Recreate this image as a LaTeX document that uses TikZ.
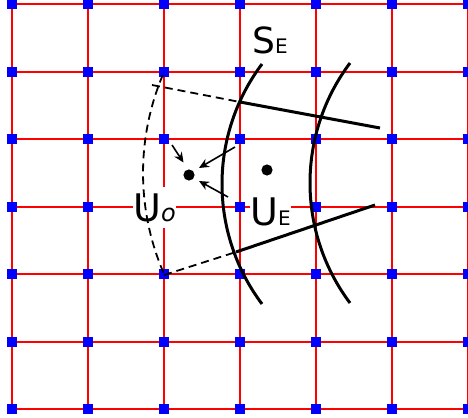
\documentclass[tikz,border=0pt]{standalone}
\usepackage{fontspec}
\setmainfont{DejaVu Sans}
\usetikzlibrary{arrows.meta}
\begin{document}
\begin{tikzpicture}[x=0.5pt,y=-0.5pt,
  gridline/.style={red, line width=1pt},
  gridpt/.style={rectangle, fill=blue, draw=none, minimum size=5pt, inner sep=0pt},
  front/.style={black, line width=1.5pt},
  guide/.style={black, line width=0.9pt, dash pattern=on 4pt off 2.5pt},
  ptr/.style={black, line width=0.8pt, -{Stealth[length=5pt,width=4.5pt]}},
  dot/.style={circle, fill=black, inner sep=0pt, minimum size=5.6pt},
  lbl/.style={inner xsep=0pt, inner ysep=3pt, anchor=base west, fill=white, font=\fontsize{19}{22}\selectfont}
]
\useasboundingbox (0,0) rectangle (468,418);
% grid coordinates
\foreach \i in {0,...,6}{
  \foreach \j in {0,...,6}{
    \coordinate (g-\i-\j) at ({12+76*\i},{4+67.5*\j});
  }
}
% grid lines
\foreach \i in {0,...,6}{
  \draw[gridline] (g-\i-0) -- (g-\i-6);
  \draw[gridline] (g-0-\i) -- ([xshift=2pt]g-6-\i);
}
% grid points
\foreach \i in {0,...,6}{
  \foreach \j in {0,...,6}{
    \node[gridpt] (q-\i-\j) at (g-\i-\j) {};
  }
}
% labels with white background
\node[lbl] (uo) at (133,221) {U{\fontsize{12}{12}\selectfont\itshape o}\hspace{7.5pt}};
\node[lbl] (ue) at (250,225) {U{\fontsize{10}{10}\selectfont E}\hspace{6pt}};
\node[anchor=base west, inner sep=0pt, font=\fontsize{18}{20}\selectfont] (se) at (252,53) {S{\fontsize{10}{10}\selectfont E}};
% wave fronts
\draw[front] (262,64) arc[start angle=143.13, end angle=216.87, radius=100pt];
\draw[front] (350,63) arc[start angle=143.13, end angle=216.87, radius=100pt];
\draw[guide] (162.8,75) arc[start angle=157.2, end angle=203.8, radius=126.5pt];
% rays
\coordinate (t0) at (152,85);
\coordinate (t1) at (240,102);
\coordinate (t2) at (380,128);
\coordinate (b0) at (164,275);
\coordinate (b1) at (236,252);
\coordinate (b2) at (375,205);
\draw[guide] (t0) -- (t1);
\draw[front] (t1) -- (t2);
\draw[guide] (b0) -- (b1);
\draw[front] (b1) -- (b2);
% points
\node[dot] (po) at (189,175) {};
\node[dot] (pe) at (267,170) {};
% arrows
\coordinate (a1) at (172,145);
\coordinate (a1e) at (183.5,162.5);
\coordinate (a2) at (235,147);
\coordinate (a2e) at (199,168);
\coordinate (a3) at (228,197);
\coordinate (a3e) at (199,181);
\draw[ptr] (a1) -- (a1e);
\draw[ptr] (a2) -- (a2e);
\draw[ptr] (a3) -- (a3e);
\end{tikzpicture}
\end{document}
